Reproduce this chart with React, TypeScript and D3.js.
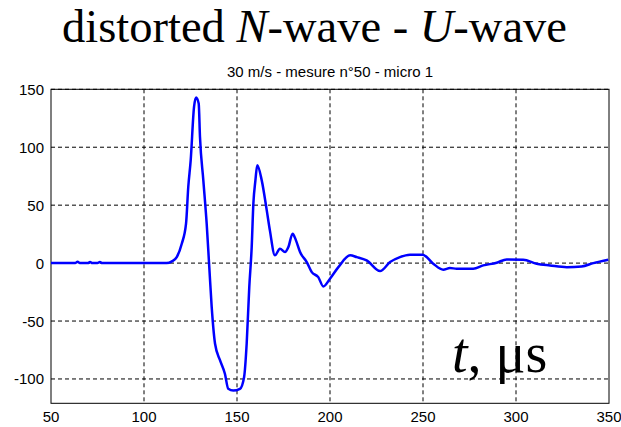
import React, { useEffect, useRef } from 'react';
import * as d3 from 'd3';

// time (µs) and pressure
const times = [50, 63, 64.3, 65.5, 69.8, 71, 72.2, 75, 76.3, 77.5, 112.2, 115, 117.6, 120.3, 122.6, 123.8, 125.1, 126.9, 128, 129.4, 130.1, 131.9, 133.7, 135.1, 136.4, 138.2, 140.9, 143.5, 145.3, 148, 151.6, 153.8, 155.2, 156.6, 157.9, 158.8, 159.9, 160.9, 163.3, 166, 167.7, 170.4, 173.1, 175.8, 177.6, 179.9, 181.7, 183.9, 187.5, 190.2, 193.7, 196.4, 200, 204.5, 210.8, 214.4, 219.7, 226.9, 232.3, 237.6, 243, 249.8, 255.5, 260.9, 264.5, 268.1, 277, 282.4, 289.6, 295, 303.9, 311.1, 318.3, 327.3, 335.3, 341.6, 349.6];
const pressure = [0, 0, 1.2, 0, 0, 1, 0, 0, 1, 0, 0, 1.5, 5.2, 16.7, 34, 65.7, 88.7, 134.8, 142.9, 137.7, 108.8, 71.4, 34, -3.5, -38, -69.6, -84, -95.5, -108.5, -110, -108.5, -98.5, -69.6, -20.7, 13.8, 51.3, 71.4, 84.4, 71.4, 45.5, 28, 6.7, 12.4, 9.5, 13.8, 25.4, 19.6, 9.5, 0.9, -7.8, -12.1, -20.1, -13.5, -3.5, 6.7, 5.2, 2.3, -6.9, 0.9, 5.2, 7.3, 7.3, -0.5, -5.7, -4.3, -4.8, -4.8, -2, 0.3, 3.2, 2.9, -0.5, -2, -3.5, -2.9, 0, 2.9];

const xTicks = [50, 100, 150, 200, 250, 300, 350];
const yTicks = [-100, -50, 0, 50, 100, 150];

const subtitle = '30 m/s - mesure n°50 - micro 1';

export default function App() {
  const ref = useRef<SVGSVGElement>(null);

  useEffect(() => {
    const svg = d3.select(ref.current);
    svg.selectAll('*').remove();

    const left = 51, right = 609, top = 89.3, bottom = 403.3;
    const x = d3.scaleLinear().domain([50, 350]).range([left, right]);
    const y = d3.scaleLinear().domain([-121, 150]).range([bottom, top]);

    svg.append('rect').attr('width', 621).attr('height', 427).attr('fill', '#fff');

    // big title
    const t = svg.append('text')
      .attr('x', 314.5).attr('y', 41.5)
      .attr('text-anchor', 'middle')
      .attr('font-family', '"Liberation Serif", "Times New Roman", serif')
      .attr('font-size', 46.5).attr('fill', '#000');
    t.append('tspan').text('distorted ');
    t.append('tspan').attr('font-style', 'italic').text('N');
    t.append('tspan').text('-wave - ');
    t.append('tspan').attr('font-style', 'italic').text('U');
    t.append('tspan').text('-wave');

    svg.append('text')
      .attr('x', (left + right) / 2).attr('y', 77)
      .attr('text-anchor', 'middle')
      .attr('font-family', '"Liberation Sans", Arial, sans-serif')
      .attr('font-size', 15).attr('fill', '#000')
      .text(subtitle);

    // grid
    const g = svg.append('g');
    g.selectAll('line.gx').data(xTicks.slice(1, -1)).enter().append('line')
      .attr('x1', d => x(d)).attr('x2', d => x(d))
      .attr('y1', top).attr('y2', bottom)
      .attr('stroke', '#000').attr('stroke-dasharray', '4,3');
    g.selectAll('line.gy').data(yTicks).enter().append('line')
      .attr('y1', d => y(d)).attr('y2', d => y(d))
      .attr('x1', left).attr('x2', right)
      .attr('stroke', '#000').attr('stroke-dasharray', '4,3');

    // frame
    svg.append('rect')
      .attr('x', left).attr('y', top)
      .attr('width', right - left).attr('height', bottom - top)
      .attr('fill', 'none').attr('stroke', '#000');

    // tick labels
    svg.selectAll('text.xl').data(xTicks).enter().append('text')
      .attr('x', d => x(d)).attr('y', 422)
      .attr('text-anchor', 'middle')
      .attr('font-family', '"Liberation Sans", Arial, sans-serif')
      .attr('font-size', 15).attr('fill', '#000')
      .text(d => d);
    svg.selectAll('text.yl').data(yTicks).enter().append('text')
      .attr('x', 44).attr('y', d => y(d) + 5.5)
      .attr('text-anchor', 'end')
      .attr('font-family', '"Liberation Sans", Arial, sans-serif')
      .attr('font-size', 15).attr('fill', '#000')
      .text(d => d);

    // the trace
    const line = d3.line<number>()
      .x((d, i) => x(times[i]))
      .y(d => y(d))
      .curve(d3.curveMonotoneX);
    svg.append('path')
      .datum(pressure)
      .attr('d', line)
      .attr('fill', 'none')
      .attr('stroke', '#0000ff')
      .attr('stroke-width', 2.5)
      .attr('stroke-linejoin', 'round');

    // axis label
    const a = svg.append('text')
      .attr('x', 452).attr('y', 372)
      .attr('font-family', '"Liberation Serif", "Times New Roman", serif')
      .attr('font-size', 56).attr('fill', '#000');
    a.append('tspan').attr('font-style', 'italic').text('t');
    a.append('tspan').text(', μs');
  }, []);

  return (
    <svg ref={ref} width={621} height={427}
      style={{ position: 'absolute', left: 0, top: 0, display: 'block' }} />
  );
}
